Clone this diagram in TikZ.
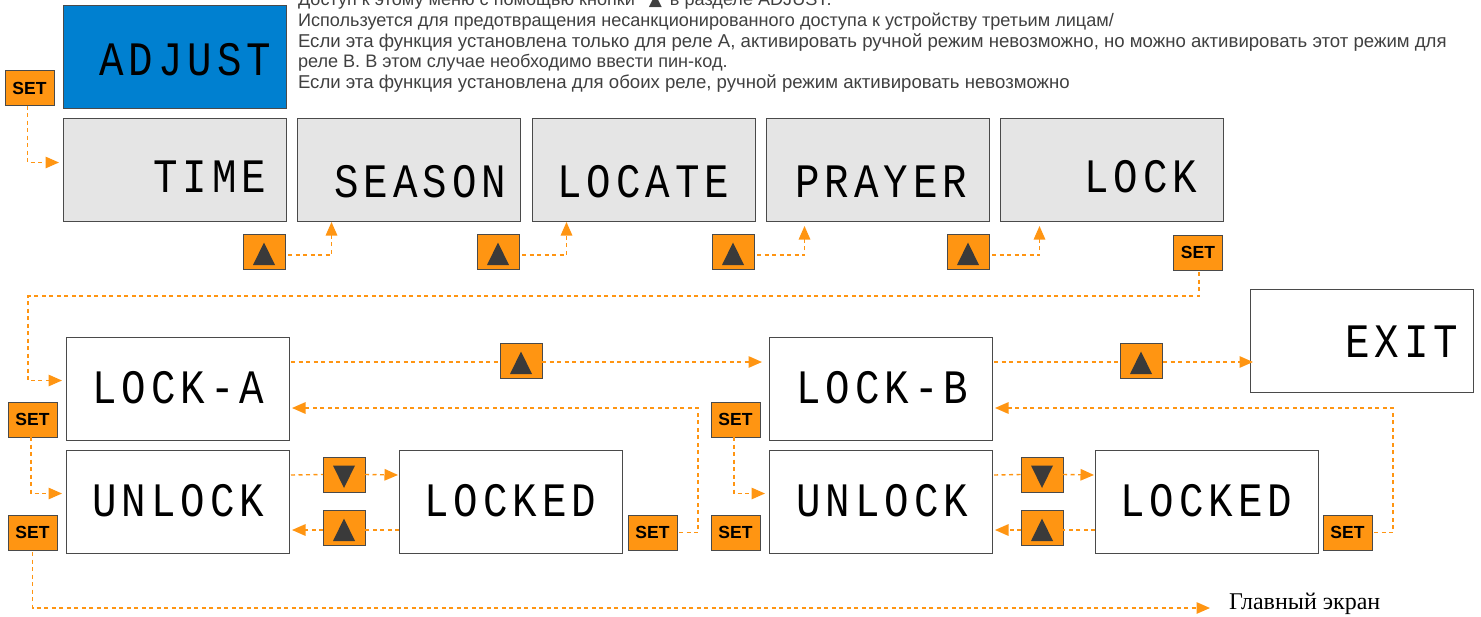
\documentclass[tikz,border=0pt]{standalone}
\usepackage{fontspec}
\setmainfont{Liberation Sans}
\newfontfamily\lcdfont[LetterSpace=10.4,FakeStretch=0.85]{Liberation Mono}
\newfontfamily\serifrm{Liberation Serif}
\newfontfamily\symfont{DejaVu Sans}
\usetikzlibrary{arrows.meta}
\definecolor{btn}{HTML}{FF9512}
\definecolor{lcdblue}{HTML}{0080D0}
\definecolor{lcdgray}{HTML}{E5E5E5}
\definecolor{edge}{HTML}{4A4A4A}
\definecolor{txt}{HTML}{404040}
\definecolor{tri}{HTML}{3A3A3A}
\tikzset{
  x=1pt,y=-1pt,
  lcd/.style={draw=edge,line width=1pt,anchor=north west,inner sep=0,outer sep=0,minimum width=223pt,minimum height=103pt},
  lcdtext/.style={anchor=base west,inner sep=0,outer sep=0,font=\lcdfont\fontsize{48}{48}\selectfont,text=black},
  setbtn/.style={draw=edge,line width=1pt,fill=btn,anchor=north west,inner sep=0,outer sep=0,minimum width=49pt,minimum height=35pt,font=\fontsize{17.5}{18}\selectfont\bfseries,text=black},
  trbtn/.style={draw=edge,line width=1pt,fill=btn,anchor=north west,inner sep=0,outer sep=0,minimum width=42pt,minimum height=35pt},
  upbtn/.style={trbtn,path picture={\fill[tri] ([xshift=-11pt,yshift=-13.5pt]path picture bounding box.center) -- ([xshift=11pt,yshift=-13.5pt]path picture bounding box.center) -- ([yshift=9pt]path picture bounding box.center) -- cycle;}},
  dnbtn/.style={trbtn,path picture={\fill[tri] ([xshift=-11pt,yshift=9pt]path picture bounding box.center) -- ([xshift=11pt,yshift=9pt]path picture bounding box.center) -- ([yshift=-13.5pt]path picture bounding box.center) -- cycle;}},
  link/.style={draw=btn,line width=1.4pt,dash pattern=on 4pt off 3.5pt},
  arr/.style={link,-{Triangle[length=13.5pt,width=11.5pt,fill=btn,sep=0pt]},shorten >=#1},
  arr/.default=4pt,
  note/.style={anchor=base west,inner sep=0,outer sep=0,text=txt},
  fa/.style={font=\fontsize{18.1}{20}\selectfont},
  fb/.style={font=\fontsize{18.6}{20}\selectfont},
}
\begin{document}
\begin{tikzpicture}
\useasboundingbox (0,0) rectangle (1481,616);
\clip (0,0) rectangle (1481,616);
% notes
\node[note,fa] (n1) at (298,5) {Доступ к этому меню с помощью кнопки\hspace{14pt}{\symfont\fontsize{17}{17}\selectfont ▲}\hspace{8pt}в разделе ADJUST.};
\node[note,fa] (n2) at (298,26) {Используется для предотвращения несанкционированного доступа к устройству третьим лицам/};
\node[note,fb] (n3) at (298,47) {Если эта функция установлена только для реле А, активировать ручной режим невозможно, но можно активировать этот режим для};
\node[note,fa] (n4) at (298,67) {реле В. В этом случае необходимо ввести пин-код.};
\node[note,fb] (n5) at (298,88) {Если эта функция установлена для обоих реле, ручной режим активировать невозможно};
% screens
\node[lcd,fill=lcdblue] (adjust) at (63,5) {};
\node[lcd,fill=lcdgray] (time) at (63,118) {};
\node[lcd,fill=lcdgray] (season) at (297,118) {};
\node[lcd,fill=lcdgray] (locate) at (532,118) {};
\node[lcd,fill=lcdgray] (prayer) at (766,118) {};
\node[lcd,fill=lcdgray] (lock) at (1000,118) {};
\node[lcd] (locka) at (66,337) {};
\node[lcd] (unlocka) at (66,450) {};
\node[lcd] (lockeda) at (399,450) {};
\node[lcd] (lockb) at (769,337) {};
\node[lcd] (unlockb) at (769,450) {};
\node[lcd] (lockedb) at (1095,450) {};
\node[lcd] (exit) at (1250,289) {};
% screen texts
\node[lcdtext] (tadjust) at (99.5,75) {ADJUST};
\node[lcdtext] (ttime) at (153.5,192) {TIME};
\node[lcdtext] (tseason) at (334.5,197) {SEASON};
\node[lcdtext] (tlocate) at (557.5,197) {LOCATE};
\node[lcdtext] (tprayer) at (795.5,197) {PRAYER};
\node[lcdtext] (tlock) at (1084.5,192) {LOCK};
\node[lcdtext] (tlocka) at (92.5,403) {LOCK-A};
\node[lcdtext] (tunlocka) at (92.5,516) {UNLOCK};
\node[lcdtext] (tlockeda) at (424.5,516) {LOCKED};
\node[lcdtext] (tlockb) at (796.5,403) {LOCK-B};
\node[lcdtext] (tunlockb) at (796.5,516) {UNLOCK};
\node[lcdtext] (tlockedb) at (1120.5,516) {LOCKED};
\node[lcdtext] (texit) at (1345.5,357) {EXIT};
% way-points
\coordinate (c1) at (1199,296);
\coordinate (c2) at (28,296);
\coordinate (c3) at (698,408);
\coordinate (c4) at (1393,408);
\coordinate (c5) at (32.5,608);
\coordinate (mainend) at (1213,608);
\coordinate (ra) at (0,362);
\coordinate (rb) at (0,530);
% buttons
\node[setbtn] (set0) at (5,70.5) {SET};
\node[upbtn] (u1) at (243,234) {};
\node[upbtn] (u2) at (477,234) {};
\node[upbtn] (u3) at (712,234) {};
\node[upbtn] (u4) at (947,234) {};
\node[setbtn] (setlock) at (1173.5,235) {SET};
\node[upbtn] (ua) at (500,343) {};
\node[upbtn] (ub) at (1120,343) {};
\node[setbtn] (seta) at (8,402) {SET};
\node[setbtn] (setua) at (8,515) {SET};
\node[dnbtn] (da1) at (323,457) {};
\node[upbtn] (ua1) at (323,510) {};
\node[setbtn] (setla) at (628,515) {SET};
\node[setbtn] (setb) at (711,402) {SET};
\node[setbtn] (setub) at (711,515) {SET};
\node[dnbtn] (db1) at (1021,457) {};
\node[upbtn] (ub1) at (1021,510) {};
\node[setbtn] (setlb) at (1323,515) {SET};
\node[anchor=base west,inner sep=0,outer sep=0,font=\serifrm\fontsize{24}{24}\selectfont,text=black] (main) at (1229,609) {Главный экран};
% links
\draw[arr] ([xshift=-2pt]set0.south) |- ([yshift=7pt]time.west);
\draw[arr=1pt] ([xshift=3pt,yshift=-3.5pt]u1.east) -| ([xshift=-77pt]season.south);
\draw[arr=1pt] ([xshift=3pt,yshift=-3.5pt]u2.east) -| ([xshift=-77pt]locate.south);
\draw[arr=5pt] ([xshift=3pt,yshift=-3.5pt]u3.east) -| ([xshift=-73pt]prayer.south);
\draw[arr=5pt] ([xshift=3pt,yshift=-3.5pt]u4.east) -| ([xshift=-72pt]lock.south);
\draw[arr] ([xshift=1pt,yshift=-2pt]setlock.south) -- (c1) -- (c2) |- ([yshift=8pt]locka.west);
\draw[link] ([xshift=2pt,yshift=26.5pt]locka.east) -- (ua.west |- ra);
\draw[arr=7pt] (ua.east |- ra) -- ([yshift=26.5pt]lockb.west);
\draw[link] ([xshift=2pt,yshift=26.5pt]lockb.east) -- (ub.west |- ra);
\draw[arr=-3pt] ([xshift=1pt]ub.east |- ra) -- (exit.west |- ra);
\draw[arr=3pt] ([xshift=2pt]setla.east) -| (c3) -- (c3 -| locka.east);
\draw[arr=3pt] ([xshift=2pt]setlb.east) -| (c4) -- (c4 -| lockb.east);
\draw[arr] ([xshift=-1.5pt]seta.south) |- ([yshift=8pt]unlocka.west);
\draw[arr] ([xshift=-1.5pt]setb.south) |- ([yshift=8pt]unlockb.west);
\draw[link] ([xshift=2pt,yshift=26.5pt]unlocka.east) -- (da1.west);
\draw[arr=1pt] (da1.east) -- ([yshift=26.5pt]lockeda.west);
\draw[link] (lockeda.west |- rb) -- (ua1.east |- rb);
\draw[arr=3pt] (ua1.west |- rb) -- (unlocka.east |- rb);
\draw[link] ([xshift=2pt,yshift=26.5pt]unlockb.east) -- (db1.west);
\draw[arr=1pt] (db1.east) -- ([yshift=26.5pt]lockedb.west);
\draw[link] (lockedb.west |- rb) -- (ub1.east |- rb);
\draw[arr=3pt] (ub1.west |- rb) -- (unlockb.east |- rb);
\draw[arr=3pt] ([yshift=-2pt]setua.south) -- (c5) -- (mainend);
\end{tikzpicture}
\end{document}
